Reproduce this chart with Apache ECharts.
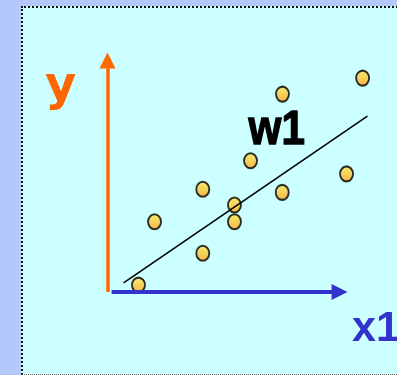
<!DOCTYPE html>
<html>
<head>
<meta charset="utf-8">
<script src="https://cdn.jsdelivr.net/npm/echarts@6/dist/echarts.min.js"></script>
<style>
  html, body { margin: 0; padding: 0; }
  body { width: 397px; height: 375px; background: #b4c8fb; position: relative; overflow: hidden; }
  #panel {
    position: absolute; left: 21px; top: 6px; width: 390px; height: 366px;
    background: #ccffff;
    border-left: 2px dotted #111;
    border-top: 2px dotted #111;
    border-bottom: 1px dotted #666;
  }
  #chart { position: absolute; left: 0; top: 0; width: 397px; height: 375px; }
</style>
</head>
<body>
<div id="panel"></div>
<div id="chart"></div>
<script>
// sample points (x1, y), axis units
const pointsX = [1.29, 1.96, 3.97, 3.97, 5.29, 5.29, 5.96, 7.28, 7.29, 9.96, 10.63];
const pointsY = [0.29, 2.94, 4.30, 1.62, 3.64, 2.94, 5.49, 4.17, 8.28, 4.94, 8.95];

// fitted line w1, two end points
const fitX = [0.67, 10.83];
const fitY = [0.38, 7.36];

// axis arrows: [start, end] in axis units
const yArrow = [[0, 0], [0, 9.69]];
const xArrow = [[0.17, 0], [9.67, 0]];

const chart = echarts.init(document.getElementById("chart"), null, { renderer: "canvas" });

function arrow(name, ends, color, width) {
  return {
    name: name,
    type: "line",
    data: [],
    silent: true,
    markLine: {
      silent: true,
      symbol: ["none", "triangle"],
      symbolSize: 16,
      label: { show: false },
      emphasis: { disabled: true },
      lineStyle: { color: color, width: width, type: "solid", opacity: 1 },
      itemStyle: { color: color },
      data: [[{ coord: ends[0] }, { coord: ends[1] }]]
    }
  };
}

const option = {
  backgroundColor: "transparent",
  animation: false,
  grid: { left: 107.5, top: 53, width: 288, height: 239 },
  xAxis: { type: "value", min: 0, max: 12, show: false },
  yAxis: { type: "value", min: 0, max: 10, show: false },
  graphic: [
    {
      type: "text", left: 45, top: 64,
      style: { text: "y", fill: "#ff6600", font: "bold 48px 'DejaVu Sans'" }
    },
    {
      type: "text", left: 248, top: 105, scaleX: 0.86,
      style: { text: "w1", fill: "#000", font: "bold 49px 'Liberation Sans'", stroke: "#000", lineWidth: 1.4 }
    },
    {
      type: "text", left: 352, top: 308,
      style: { text: "x1", fill: "#3333cc", font: "bold 43px 'Liberation Sans'" }
    }
  ],
  series: [
    arrow("y axis", yArrow, "#ff6a00", 3.5),
    arrow("x axis", xArrow, "#3333cc", 4),
    {
      name: "w1",
      type: "line",
      data: fitX.map((x, i) => [x, fitY[i]]),
      symbol: "none",
      clip: false,
      lineStyle: { color: "#000", width: 1.6 }
    },
    {
      name: "points",
      type: "scatter",
      data: pointsX.map((x, i) => [x, pointsY[i]]),
      symbol: "circle",
      symbolSize: [13, 15],
      clip: false,
      itemStyle: {
        color: new echarts.graphic.LinearGradient(0, 0, 0, 1, [
          { offset: 0, color: "#ffec50" },
          { offset: 1, color: "#ff9f1a" }
        ]),
        borderColor: "#000",
        borderWidth: 2
      }
    }
  ]
};

chart.setOption(option);
</script>
</body>
</html>
